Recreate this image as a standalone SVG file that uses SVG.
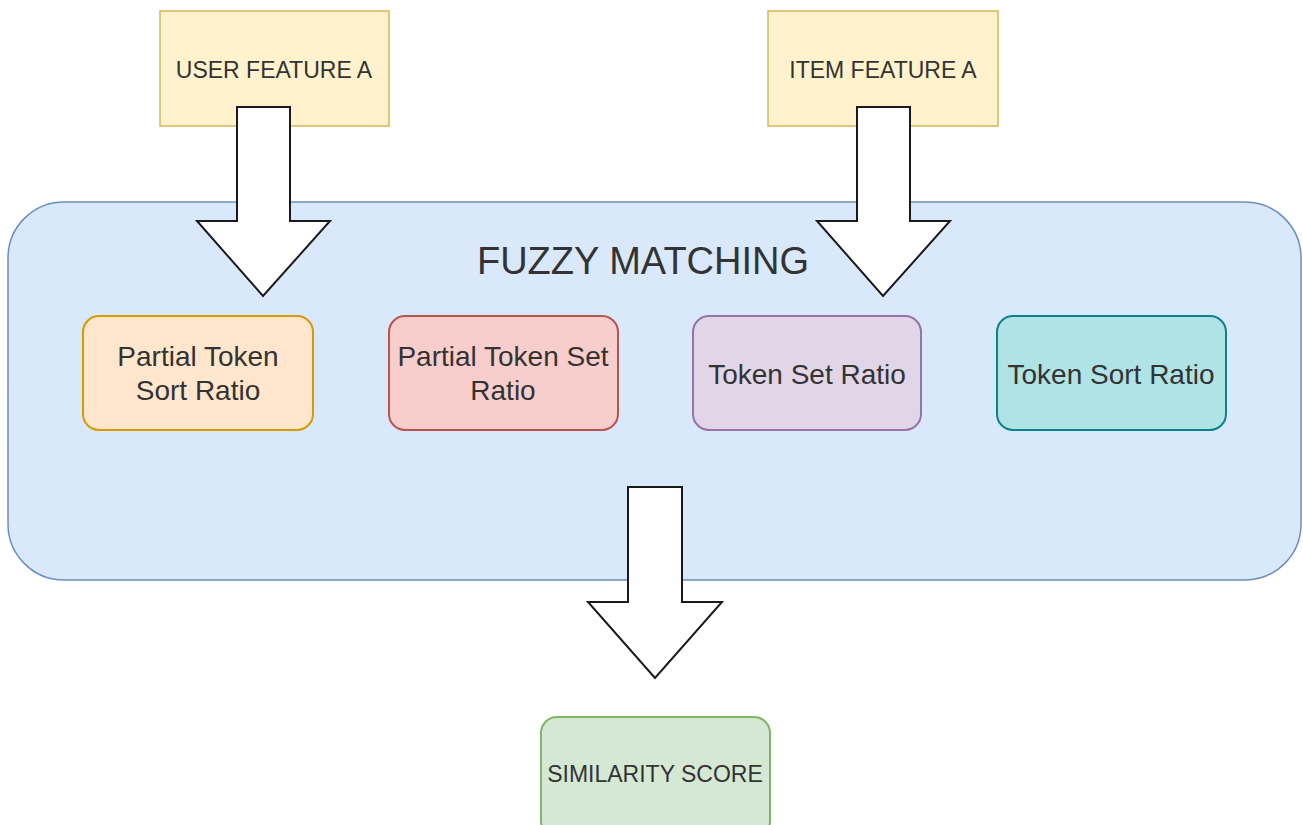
<svg xmlns="http://www.w3.org/2000/svg" width="1303" height="825" viewBox="0 0 1303 825">
<style>
text{font-family:"Liberation Sans",Arial,sans-serif;fill:#333;text-anchor:middle}
.feat{fill:#fff2cc;stroke:#d6b656;stroke-width:1.5}
.node{stroke-width:2}
.t24{font-size:28px}
.t20{font-size:23px}
.arrow{fill:#fff;stroke:#1a1a1a;stroke-width:2;stroke-linejoin:miter}
</style>
<rect width="1303" height="825" fill="#fff"/>
<g id="container">
<rect x="8" y="202" width="1293" height="378" rx="56" ry="56" fill="#dae8fc" stroke="#6c8ebf" stroke-width="1.5"/>
<text x="643" y="274" style="font-size:38px">FUZZY MATCHING</text>
</g>
<g id="user-feature">
<rect class="feat" x="160" y="11" width="229" height="115"/>
<text class="t20" x="274" y="78">USER FEATURE A</text>
</g>
<g id="item-feature">
<rect class="feat" x="768" y="11" width="230" height="115"/>
<text class="t20" x="883" y="78">ITEM FEATURE A</text>
</g>
<g id="partial-token-sort">
<rect class="node" x="83" y="316" width="230" height="114" rx="16" fill="#ffe6cc" stroke="#d79b00"/>
<text class="t24" x="198" y="366">Partial Token</text>
<text class="t24" x="198" y="400">Sort Ratio</text>
</g>
<g id="partial-token-set">
<rect class="node" x="389" y="316" width="229" height="114" rx="16" fill="#f8cecc" stroke="#b85450"/>
<text class="t24" x="503" y="366">Partial Token Set</text>
<text class="t24" x="503" y="400">Ratio</text>
</g>
<g id="token-set">
<rect class="node" x="693" y="316" width="228" height="114" rx="16" fill="#e1d5e7" stroke="#9673a6"/>
<text class="t24" x="807" y="384">Token Set Ratio</text>
</g>
<g id="token-sort">
<rect class="node" x="997" y="316" width="229" height="114" rx="16" fill="#b0e3e6" stroke="#0e8088"/>
<text class="t24" x="1111" y="384">Token Sort Ratio</text>
</g>
<g id="similarity-score">
<rect class="node" x="541" y="717" width="229" height="120" rx="16" fill="#d5e8d4" stroke="#82b366"/>
<text class="t20" x="655" y="782">SIMILARITY SCORE</text>
</g>
<g id="connectors">
<path class="arrow" d="M237,107 H290 V221 H330 L263,296 L197,221 H237 Z"/>
<path class="arrow" d="M857,107 H910 V221 H950 L883,296 L817,221 H857 Z"/>
<path class="arrow" d="M628,487 H682 V602 H722 L655,678 L588,602 H628 Z"/>
</g>
</svg>
